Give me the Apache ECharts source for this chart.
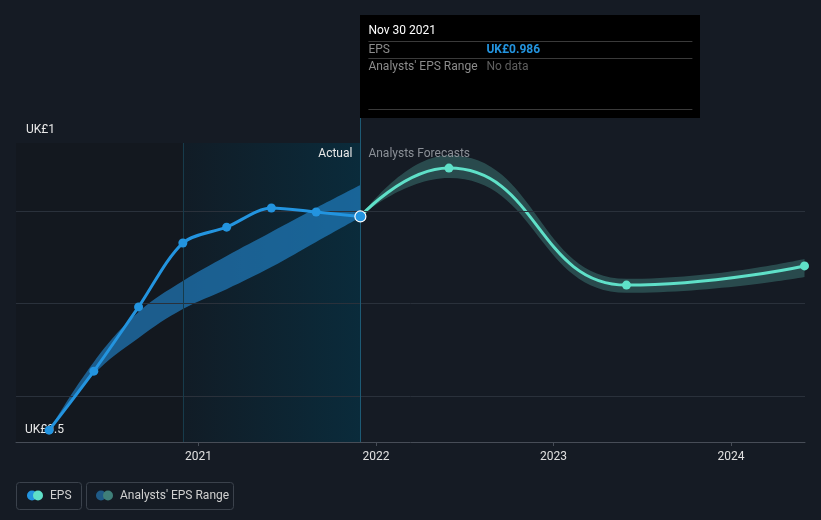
<!DOCTYPE html>
<html><head><meta charset="utf-8">
<script src="https://cdn.jsdelivr.net/npm/echarts@6/dist/echarts.min.js"></script>
<style>html,body{margin:0;padding:0;background:#151b24;}#c{width:821px;height:520px;}</style>
</head><body><div id="c"></div>
<script>
// ---- data ----
const actualDates = ['2020-02-29','2020-05-31','2020-08-31','2020-11-30','2021-02-28','2021-05-31','2021-08-31','2021-11-30'];
const epsActual = [0.407,0.567,0.741,0.914,0.957,1.009,0.998,0.986];
const actualRangeLow = [0.407,0.559,0.657,0.735,0.789,0.849,0.917,0.984];
const actualRangeHigh = [0.407,0.592,0.727,0.811,0.879,0.944,1.009,1.071];
const forecastDates = ['2021-11-30','2022-05-31','2023-05-31','2024-05-31'];
const epsForecast = [0.986,1.117,0.800,0.852];
const forecastLow = [0.986,1.090,0.779,0.822];
const forecastHigh = [0.986,1.152,0.817,0.871];
const xTickLabels = ['2021','2022','2023','2024'];
const yTickLabels = ['UK£1','UK£0.5'];
const gridValues = [0.5,0.75,1.0];
const pastYearStart = '2020-11-30';
const today = '2021-11-30';
const axisMin = '2019-12-23', axisMax = '2024-06-01';
const yMin = 0.375, yMax = 1.185;
const legendNames = ['EPS', "Analysts' EPS Range"];

// ---- chart ----
const ts = s => { const p = s.split('-').map(Number); return Date.UTC(p[0], (p[1]||1)-1, p[2]||1); };
const chart = echarts.init(document.getElementById('c'), null, {renderer:'canvas'});
const pair = (d, v) => d.map((x,i)=>[ts(x), v[i]]);
const diff = (hi, lo) => hi.map((h,i)=>+(h-lo[i]).toFixed(4));
const FONT = 'Roboto, "Open Sans", sans-serif';
const blue = '#2394df', teal = '#5fe0c8';
const yearTicks = xTickLabels.map(y=>ts(y));

const option = {
  backgroundColor: '#151b24',
  animation: false,
  grid: {left:16, right:16, top:143, bottom:78},
  xAxis: [{
    type:'time', min:ts(axisMin), max:ts(axisMax), position:'bottom', show:false
  }, {
    type:'value', min:ts(axisMin), max:ts(axisMax), position:'bottom',
    axisLine:{lineStyle:{color:'#474d57', width:1}},
    axisTick:{show:true, length:4, lineStyle:{color:'#474d57'}, customValues: yearTicks},
    axisLabel:{color:'#e0e0e0', fontSize:12, fontFamily:FONT, margin:9, customValues: yearTicks,
      formatter: v => { const i = yearTicks.indexOf(v); return i >= 0 ? xTickLabels[i] : ''; }},
    splitLine:{show:false}
  }],
  yAxis: {type:'value', min:yMin, max:yMax, show:true,
    axisLine:{show:false}, axisTick:{show:false}, axisLabel:{show:false}, splitLine:{show:false}},
  series: [
    {
      type:'line', name:'rangeBase', z:1, stack:'actual', smooth:0.4, symbol:'none',
      data: pair(actualDates, actualRangeLow), lineStyle:{opacity:0},
      markArea:{silent:true, data:[
        [{xAxis:ts(axisMin), itemStyle:{color:'#13181f'}}, {xAxis:ts(pastYearStart)}],
        [{xAxis:ts(pastYearStart), itemStyle:{color:{type:'linear',x:0,y:0,x2:1,y2:0,
            colorStops:[{offset:0,color:'#111c26'},{offset:1,color:'#0a2b3b'}]}}}, {xAxis:ts(today)}]
      ]}
    },
    {
      type:'line', name:'gridLines', z:2, data:pair([today],[null]), symbol:'none',
      markLine:{silent:true, symbol:'none', label:{show:false},
        data: gridValues.map(v=>({yAxis:v, lineStyle:{color:'#2a313b', width:1, type:'solid'}}))
          .concat([{yAxis:yMax, lineStyle:{color:'#3b424c', width:1, type:'solid'}},
                   {xAxis:ts(pastYearStart), lineStyle:{color:'#173b4b', width:1, type:'solid'}},
                   {xAxis:ts(today), lineStyle:{color:'#1d5a74', width:1, type:'solid'}}])
      }
    },
    {
      type:'line', name:'actualRange', z:3, stack:'actual', smooth:0.4, symbol:'none',
      data: pair(actualDates, diff(actualRangeHigh, actualRangeLow)), lineStyle:{opacity:0},
      areaStyle:{color:'rgba(35,140,215,0.6)', opacity:1}
    },
    {
      type:'line', name:'forecastBase', z:3, stack:'fc', smooth:0.5, smoothMonotone:'x', symbol:'none',
      data: pair(forecastDates, forecastLow), lineStyle:{opacity:0}
    },
    {
      type:'line', name:'forecastRange', z:3, stack:'fc', smooth:0.5, smoothMonotone:'x', symbol:'none',
      data: pair(forecastDates, diff(forecastHigh, forecastLow)), lineStyle:{opacity:0},
      areaStyle:{color:'rgba(95,205,190,0.27)', opacity:1}
    },
    {
      type:'line', name:'EPS forecast', z:4, smooth:0.5, smoothMonotone:'x',
      data: pair(forecastDates, epsForecast),
      lineStyle:{color:teal, width:3}, itemStyle:{color:teal},
      symbol:'circle', symbolSize:9, showSymbol:true
    },
    {
      type:'line', name:'EPS', z:6, smooth:0.3,
      data: pair(actualDates, epsActual).map((p,i,a)=> i===a.length-1 ?
        {value:p, itemStyle:{color:blue, borderColor:'#ffffff', borderWidth:1.2}, symbolSize:11} : p),
      lineStyle:{color:blue, width:3}, itemStyle:{color:blue},
      symbol:'circle', symbolSize:9, showSymbol:true
    }
  ]
};
chart.setOption(option);

// ---- annotations ----
const toPx = (d,v) => chart.convertToPixel({xAxisIndex:0, yAxisIndex:0}, [ts(d), v]);
const [tx, topY] = toPx(today, yMax);
const [, botY] = toPx(today, yMin);
const months = ['Jan','Feb','Mar','Apr','May','Jun','Jul','Aug','Sep','Oct','Nov','Dec'];
const td = today.split('-');
const dateLabel = months[+td[1]-1] + ' ' + (+td[2]) + ' ' + td[0];
const lastEps = epsActual[epsActual.length-1];
const txt = (x,y,text,fill,extra) => Object.assign({type:'text', x, y, z:5,
  style:{text, fill, font:'12px '+FONT, textVerticalAlign:'middle'}}, extra||{});
const g = [];
g.push({type:'line', z:5, shape:{x1:Math.round(tx)+0.5, y1:117, x2:Math.round(tx)+0.5, y2:topY}, style:{stroke:'#1d5a74', lineWidth:1}});
g.push({type:'rect', z:10, shape:{x:Math.round(tx), y:15, width:340, height:103}, style:{fill:'#000000'}});
g.push(txt(tx+8, 31, dateLabel, '#ffffff', {z:11}));
[41.5, 58.5, 109.5].forEach(y=>g.push({type:'line', z:11, shape:{x1:tx+8, y1:y, x2:tx+332, y2:y}, style:{stroke:'#3a3a3a', lineWidth:1}}));
g.push(txt(tx+8, 49.5, 'EPS', '#8c8c8c', {z:11}));
g.push({type:'text', x:tx+126, y:49.5, z:11, style:{text:'UK£'+lastEps.toFixed(3), fill:blue, font:'bold 12px '+FONT, textVerticalAlign:'middle'}});
g.push(txt(tx+8, 66.5, "Analysts' EPS Range", '#8c8c8c', {z:11}));
g.push(txt(tx+126, 66.5, 'No data', '#5f5f5f', {z:11}));
g.push({type:'text', x:tx-8, y:154, z:5, style:{text:'Actual', fill:'#e8e8e8', font:'12px '+FONT, textAlign:'right', textVerticalAlign:'middle'}});
g.push(txt(tx+8, 154, 'Analysts Forecasts', '#8b9097'));
g.push(txt(26, topY-13, yTickLabels[0], '#e8e8e8'));
g.push(txt(25, botY-12, yTickLabels[1], '#e8e8e8'));
g.push({type:'rect', z:5, shape:{x:16.5, y:482.5, width:65, height:27, r:3}, style:{fill:'none', stroke:'#3b424c', lineWidth:1}});
g.push({type:'circle', z:5, shape:{cx:32, cy:495.5, r:5}, style:{fill:blue}});
g.push({type:'circle', z:5, shape:{cx:38, cy:495.5, r:5}, style:{fill:teal}});
g.push(txt(50, 496, legendNames[0], '#d0d0d0'));
g.push({type:'rect', z:5, shape:{x:86.5, y:482.5, width:147, height:27, r:3}, style:{fill:'none', stroke:'#3b424c', lineWidth:1}});
g.push({type:'circle', z:5, shape:{cx:101, cy:495.5, r:5}, style:{fill:'#1f5a86'}});
g.push({type:'circle', z:5, shape:{cx:108, cy:495.5, r:5}, style:{fill:'#3f7f79'}});
g.push(txt(120, 496, legendNames[1], '#d0d0d0'));
chart.setOption({graphic: g});
</script>
</body></html>
